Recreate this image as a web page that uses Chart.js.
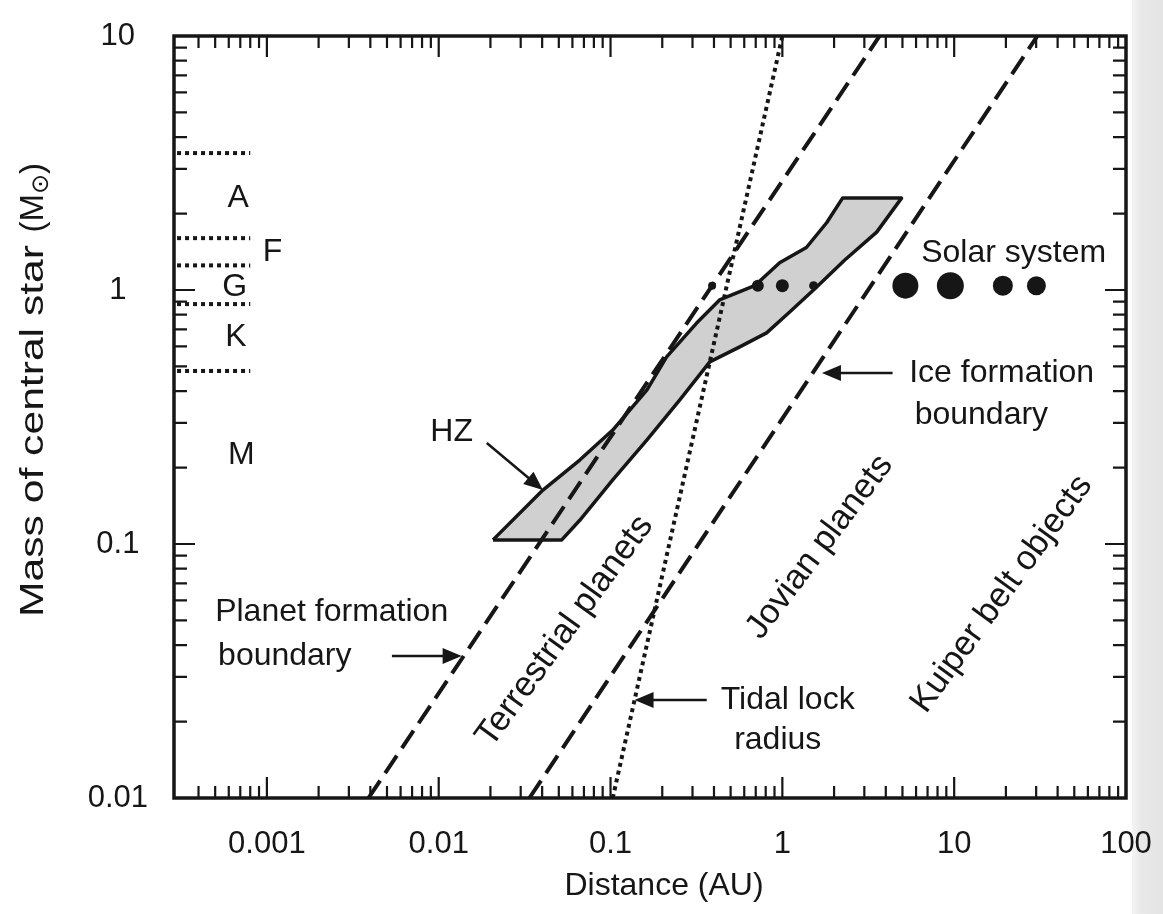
<!DOCTYPE html>
<html lang="en">
<head>
  <meta charset="UTF-8">
  <title>Planet zones vs. stellar mass</title>
  <script src="https://cdn.jsdelivr.net/npm/chart.js"></script>
  <style>
    html, body { margin: 0; padding: 0; background: #fff; }
    #wrap { width: 1163px; height: 914px; position: relative; }
  </style>
</head>
<body>
  <div id="wrap"><canvas id="zoneChart"></canvas></div>

  <script>
    // axis ranges and labelled ticks
    const X_MIN = 2.88e-4, X_MAX = 100;
    const Y_MIN = 0.01, Y_MAX = 10;
    const xTickLabels = [0.001, 0.01, 0.1, 1, 10, 100];
    const yTickLabels = [0.01, 0.1, 1, 10];

    // boundary lines (distance AU, star mass Msun)
    const planetFormationLine = [{x: 0.0039, y: 0.01}, {x: 3.68, y: 10}];
    const iceFormationLine = [{x: 0.0337, y: 0.01}, {x: 30.5, y: 10}];
    const tidalLockLine = [{x: 0.103, y: 0.01}, {x: 1.0, y: 10}];

    // habitable zone outline, round from the lower left corner
    const hzOutline = [
      {x: 0.0207, y: 0.1038}, {x: 0.052, y: 0.1038}, {x: 0.0662, y: 0.124},
      {x: 0.103, y: 0.179}, {x: 0.163, y: 0.257}, {x: 0.253, y: 0.369},
      {x: 0.378, y: 0.521}, {x: 0.565, y: 0.597}, {x: 0.81, y: 0.678},
      {x: 1.103, y: 0.819}, {x: 1.54, y: 1.009}, {x: 2.30, y: 1.31},
      {x: 3.54, y: 1.69}, {x: 4.94, y: 2.30}, {x: 2.24, y: 2.30},
      {x: 1.81, y: 1.84}, {x: 1.38, y: 1.47}, {x: 0.964, y: 1.28},
      {x: 0.69, y: 1.04}, {x: 0.431, y: 0.914}, {x: 0.317, y: 0.741},
      {x: 0.212, y: 0.545}, {x: 0.163, y: 0.404}, {x: 0.103, y: 0.281},
      {x: 0.0662, y: 0.214}, {x: 0.0404, y: 0.163}, {x: 0.0207, y: 0.1038}
    ];

    // solar system planets
    const planetNames = ['Mercury', 'Venus', 'Earth', 'Mars', 'Jupiter', 'Saturn', 'Uranus', 'Neptune'];
    const planetDistance = [0.39, 0.72, 1.0, 1.52, 5.2, 9.5, 19.2, 30.1];
    const sunMass = 1.04;

    // spectral class boundaries on the left
    const spectralBounds = [3.46, 1.6, 1.25, 0.88, 0.48];
    const spectralClasses = ['A', 'F', 'G', 'K', 'M'];
    const spectralMass = [2.3, 1.41, 1.03, 0.65, 0.224];
    const spectralDistance = [6.8e-4, 1.08e-3, 6.5e-4, 6.6e-4, 7.1e-4];
    const boundSpan = [3.0e-4, 8.0e-4];

    // styles
    const INK = '#161616';
    const planetDotRadius = [4, 6, 6.5, 4.5, 13, 13.5, 10, 9.5];
    const FONT = '"Liberation Sans", Arial, sans-serif';

    const notes = [
      {text: 'Solar system', x: 22.2, y: 1.40},
      {text: 'HZ', x: 0.0119, y: 0.276},
      {text: 'Planet formation', x: 5.0e-4, y: 0.054, align: 'left'},
      {text: 'boundary', x: 5.2e-4, y: 0.0362, align: 'left'},
      {text: 'Terrestrial planets', x: 0.0542, y: 0.0454, angle: -54, size: 35},
      {text: 'Tidal lock', x: 1.074, y: 0.0243},
      {text: 'radius', x: 0.94, y: 0.0169},
      {text: 'Jovian planets', x: 1.65, y: 0.0973, angle: -53, size: 34.5},
      {text: 'Kuiper belt objects', x: 18.9, y: 0.0635, angle: -54, size: 34.5}, 
      {text: 'Ice formation', x: 18.9, y: 0.471},
      {text: 'boundary', x: 14.4, y: 0.322}
    ];

    const arrows = [
      {from: {x: 0.01905, y: 0.25}, to: {x: 0.0404, y: 0.163}},
      {from: {x: 0.00534, y: 0.0362}, to: {x: 0.0136, y: 0.0362}},
      {from: {x: 0.363, y: 0.0243}, to: {x: 0.138, y: 0.0243}},
      {from: {x: 4.38, y: 0.471}, to: {x: 1.70, y: 0.471}}
    ];

    function decadeTicks(min, max) {
      const out = [];
      const lo = Math.floor(Math.log10(min)), hi = Math.ceil(Math.log10(max));
      for (let n = lo; n <= hi; n++) {
        for (let k = 1; k <= 9; k++) {
          const v = parseFloat((k * Math.pow(10, n)).toPrecision(8));
          if (v >= min * 0.999999 && v <= max * 1.000001) out.push({value: v});
        }
      }
      return out;
    }

    function isDecade(v) {
      const l = Math.log10(v);
      return Math.abs(l - Math.round(l)) < 1e-6;
    }

    const framePlugin = {
      id: 'frame',
      beforeDraw(chart) {
        const ctx = chart.ctx;
        ctx.save();
        ctx.fillStyle = '#ffffff';
        ctx.fillRect(0, 0, chart.width, chart.height);
        const g = ctx.createLinearGradient(1132, 0, 1163, 0);
        g.addColorStop(0, '#f4f4f4');
        g.addColorStop(0.3, '#e8e8e8');
        g.addColorStop(1, '#e4e4e4');
        ctx.fillStyle = g;
        ctx.fillRect(1132, 0, chart.width - 1132, chart.height);
        ctx.restore();
      },
      afterDatasetsDraw(chart) {
        const ctx = chart.ctx;
        const a = chart.chartArea;
        const xs = chart.scales.x, ys = chart.scales.y;

        ctx.save();
        ctx.strokeStyle = INK;
        ctx.lineWidth = 2.2;
        ctx.beginPath();
        xs.ticks.forEach(t => {
          const p = xs.getPixelForValue(t.value);
          if (p < a.left + 6 || p > a.right - 6) return;
          const len = isDecade(t.value) ? 21 : 12;
          ctx.moveTo(p, a.bottom); ctx.lineTo(p, a.bottom - len);
          ctx.moveTo(p, a.top); ctx.lineTo(p, a.top + len);
        });
        ys.ticks.forEach(t => {
          const p = ys.getPixelForValue(t.value);
          if (p < a.top + 6 || p > a.bottom - 6) return;
          const len = isDecade(t.value) ? 21 : 13;
          ctx.moveTo(a.left, p); ctx.lineTo(a.left + len, p);
          ctx.moveTo(a.right, p); ctx.lineTo(a.right - len, p);
        });
        ctx.stroke();

        ctx.lineWidth = 3.5;
        ctx.strokeRect(a.left, a.top, a.right - a.left, a.bottom - a.top);

        // annotations
        ctx.fillStyle = INK;
        ctx.textBaseline = 'middle';
        notes.forEach(n => {
          ctx.save();
          ctx.font = (n.size || 32) + 'px ' + FONT;
          ctx.translate(xs.getPixelForValue(n.x), ys.getPixelForValue(n.y));
          if (n.angle) ctx.rotate(n.angle * Math.PI / 180);
          ctx.textAlign = n.align || 'center';
          ctx.fillText(n.text, 0, 0);
          ctx.restore();
        });
        ctx.font = '32px ' + FONT;
        spectralClasses.forEach((c, i) => {
          ctx.textAlign = 'center';
          ctx.fillText(c, xs.getPixelForValue(spectralDistance[i]), ys.getPixelForValue(spectralMass[i]));
        });

        ctx.lineWidth = 2.5;
        arrows.forEach(ar => {
          const x0 = xs.getPixelForValue(ar.from.x), y0 = ys.getPixelForValue(ar.from.y);
          const x1 = xs.getPixelForValue(ar.to.x), y1 = ys.getPixelForValue(ar.to.y);
          const ang = Math.atan2(y1 - y0, x1 - x0);
          const head = 19, half = 8;
          const cx = Math.cos(ang), sy = Math.sin(ang);
          ctx.beginPath();
          ctx.moveTo(x0, y0);
          ctx.lineTo(x1 - cx * head * 0.8, y1 - sy * head * 0.8);
          ctx.stroke();
          ctx.beginPath();
          ctx.moveTo(x1, y1);
          ctx.lineTo(x1 - cx * head - sy * half, y1 - sy * head + cx * half);
          ctx.lineTo(x1 - cx * head + sy * half, y1 - sy * head - cx * half);
          ctx.closePath();
          ctx.fill();
        });

        // axis titles
        ctx.textAlign = 'center';
        ctx.fillText('Distance (AU)', 664, 886);

        // y title: main words run from y=617 up to y=245, the unit ends at y=163
        ctx.save();
        ctx.translate(34, 617);
        ctx.rotate(-Math.PI / 2);
        ctx.font = '33px ' + FONT;
        ctx.textAlign = 'left';
        const main = 'Mass of central star';
        ctx.scale(372 / ctx.measureText(main).width, 1);
        ctx.fillText(main, 0, 0);
        ctx.restore();

        ctx.save();
        ctx.translate(34, 163);
        ctx.rotate(-Math.PI / 2);
        ctx.textAlign = 'left';
        ctx.font = '33px ' + FONT;
        const wOpen = ctx.measureText('(M').width;
        const wClose = ctx.measureText(')').width;
        ctx.font = '24px "DejaVu Sans", sans-serif';
        const wSun = ctx.measureText('\u2299').width;
        let x = -(wOpen + wSun + wClose);
        ctx.font = '33px ' + FONT;
        ctx.fillText('(M', x, 0);
        x += wOpen;
        ctx.font = '24px "DejaVu Sans", sans-serif';
        ctx.fillText('\u2299', x, 8);
        x += wSun;
        ctx.font = '33px ' + FONT;
        ctx.fillText(')', x, 0);
        ctx.restore();

        ctx.restore();
      }
    };

    const lineStyle = {showLine: true, pointRadius: 0, borderColor: INK, tension: 0, fill: false};

    const datasets = [
      {
        label: 'Solar system',
        data: planetDistance.map(d => ({x: d, y: sunMass})),
        pointRadius: planetDotRadius,
        pointBackgroundColor: INK,
        pointBorderWidth: 0,
        showLine: false
      },
      Object.assign({label: 'Planet formation boundary', data: planetFormationLine, borderWidth: 4, borderDash: [21, 9]}, lineStyle),
      Object.assign({label: 'Ice formation boundary', data: iceFormationLine, borderWidth: 4, borderDash: [21, 9]}, lineStyle),
      Object.assign({label: 'Tidal lock radius', data: tidalLockLine, borderWidth: 4, borderDash: [4, 4]}, lineStyle)
    ];
    spectralBounds.forEach((m, i) => {
      datasets.push(Object.assign({
        label: 'class edge ' + i,
        data: [{x: boundSpan[0], y: m}, {x: boundSpan[1], y: m}],
        borderWidth: 4,
        borderDash: [4, 4]
      }, lineStyle));
    });
    datasets.push({
      label: 'HZ',
      data: hzOutline,
      showLine: true,
      pointRadius: 0,
      tension: 0,
      fill: 'shape',
      backgroundColor: '#d0d0d0',
      borderColor: INK,
      borderWidth: 3.5,
      borderJoinStyle: 'round'
    });

    Chart.defaults.font.family = FONT;
    Chart.defaults.color = INK;

    const chart = new Chart(document.getElementById('zoneChart'), {
      type: 'scatter',
      data: {datasets: datasets},
      options: {
        responsive: true,
        maintainAspectRatio: false,
        animation: false,
        layout: {padding: {top: 36, right: 37, left: 0, bottom: 0}},
        plugins: {legend: {display: false}, tooltip: {enabled: false}},
        scales: {
          x: {
            type: 'logarithmic',
            min: X_MIN,
            max: X_MAX,
            grid: {display: false, drawTicks: false},
            border: {display: false},
            afterBuildTicks: (scale) => { scale.ticks = decadeTicks(X_MIN, X_MAX); },
            afterFit: (scale) => {
              scale.height = 116;
              scale.paddingLeft = 0;
              scale.paddingRight = 0;
            },
            ticks: {
              autoSkip: false,
              maxRotation: 0,
              minRotation: 0,
              padding: 28,
              font: {size: 31},
              color: INK,
              callback: (v) => xTickLabels.includes(v) ? String(v) : ''
            }
          },
          y: {
            type: 'logarithmic',
            min: Y_MIN,
            max: Y_MAX,
            grid: {display: false, drawTicks: false},
            border: {display: false},
            afterBuildTicks: (scale) => { scale.ticks = decadeTicks(Y_MIN, Y_MAX); },
            afterFit: (scale) => {
              scale.width = 174;
              scale.paddingTop = 0;
              scale.paddingBottom = 0;
            },
            ticks: {
              autoSkip: false,
              crossAlign: 'center',
              padding: 26,
              font: {size: 31},
              color: INK,
              callback: (v) => yTickLabels.includes(v) ? String(v) : ''
            }
          }
        }
      },
      plugins: [framePlugin]
    });
  </script>
</body>
</html>
